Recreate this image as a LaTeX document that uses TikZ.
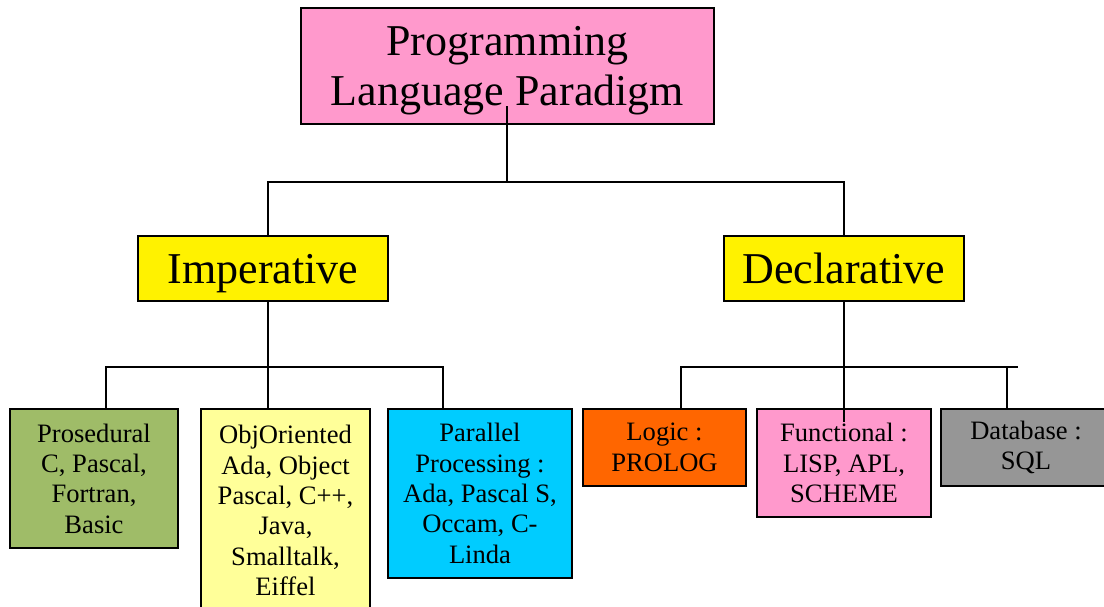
\documentclass[tikz,border=0pt]{standalone}
\usepackage{fontspec}
\setmainfont{Liberation Serif}
\usepackage{tikz}
\usetikzlibrary{positioning,calc}
\definecolor{rosepink}{HTML}{FF99CC}
\definecolor{lightyellow}{HTML}{FFFF99}
\definecolor{olivegreen}{HTML}{9FBC68}
\definecolor{skycyan}{HTML}{00CCFF}
\definecolor{burntorange}{HTML}{FF6600}
\definecolor{midgray}{HTML}{969696}
\tikzstyle{paradigm} = [rectangle, draw=black, line width=1.2pt, align=center, inner sep=0pt, text depth=0pt, font=\fontsize{31.3}{35.6}\selectfont, minimum height=1.625cm]
\tikzstyle{lang} = [rectangle, draw=black, line width=1.2pt, align=center, inner sep=0pt, font=\fontsize{18.9}{21.6}\selectfont]
\tikzstyle{branch} = [line width=1pt]

\begin{document}
\begin{tikzpicture}[x=0.025cm, y=-0.025cm]
    \useasboundingbox (0,0) rectangle (1104,606);
    % top
    \node[paradigm, fill=rosepink, minimum width=10.325cm, minimum height=2.9cm] (root) at (507.5,66) {Programming\\Language Paradigm};
    % second level
    \node[paradigm, fill=yellow, minimum width=6.25cm] (imp) at (263,268.5) {Imperative};
    \node[paradigm, fill=yellow, minimum width=6cm] (dec) at (844,268.5) {Declarative};
    % imperative languages
    \node[lang, fill=olivegreen, minimum width=4.2cm, minimum height=3.475cm] (pro) at (94,478.5) {Prosedural\\C, Pascal,\\Fortran,\\Basic};
    \node[lang, fill=lightyellow, minimum width=4.225cm, minimum height=5.075cm] (obj) at (285.5,510.5) {ObjOriented\\Ada, Object\\Pascal, C++,\\Java,\\Smalltalk,\\Eiffel};
    \node[lang, fill=skycyan, minimum width=4.6cm, minimum height=4.225cm] (par) at (480,493.5) {Parallel\\Processing :\\Ada, Pascal S,\\Occam, C-\\Linda};
    % declarative languages
    \node[lang, fill=burntorange, minimum width=4.075cm, minimum height=1.925cm] (log) at (664.5,447.5) {Logic :\\PROLOG};
    \node[lang, fill=rosepink, minimum width=4.35cm, minimum height=2.7cm] (fun) at (844,463) {Functional :\\LISP, APL,\\SCHEME};
    \node[lang, fill=midgray, minimum width=4.25cm, minimum height=1.925cm] (dbs) at (1026,447.5) {Database :\\SQL};
    % connectors
    \coordinate (stem) at (507,106);
    \coordinate (bus1) at (507,182);
    \draw[branch] (stem) -- (bus1);
    \draw[branch] ($(imp.north)+(5,0)$) |- (bus1) -| (dec.north);
    \coordinate (bus2) at (268,367);
    \draw[branch] ($(imp.south)+(5,0)$) -- ($(obj.north)+(-17.5,0)$);
    \draw[branch] ($(pro.north)+(12,0)$) |- (bus2) -| ($(par.north)+(-37,0)$);
    \coordinate (bus3end) at (1018,367);
    \coordinate (funstem) at (844,422);
    \draw[branch] (dec.south) -- (funstem);
    \draw[branch] ($(log.north)+(16.5,0)$) |- (bus3end);
    \draw[branch] ($(dbs.north)+(-19,0)$) |- (bus3end);
\end{tikzpicture}
\end{document}
